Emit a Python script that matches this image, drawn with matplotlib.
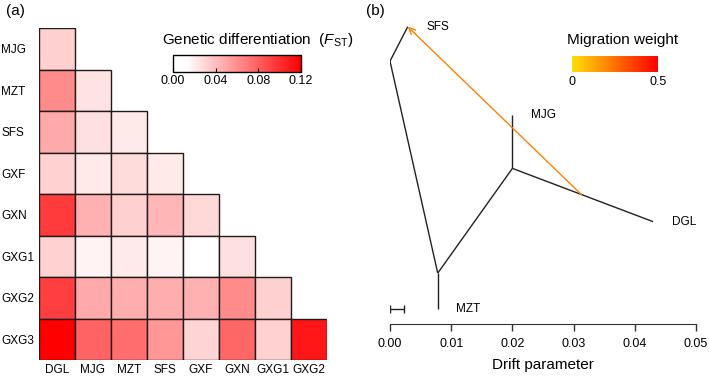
import numpy as np
import matplotlib.pyplot as plt
from matplotlib.colors import LinearSegmentedColormap, Normalize
from matplotlib.cm import ScalarMappable

plt.rcParams['font.family'] = ['Liberation Sans', 'DejaVu Sans']
plt.rcParams['mathtext.fontset'] = 'custom'
plt.rcParams['mathtext.rm'] = 'Liberation Sans'
plt.rcParams['mathtext.it'] = 'Liberation Sans:italic'

# ---- data: pairwise FST (lower triangle) ----
col_pops = ["DGL", "MJG", "MZT", "SFS", "GXF", "GXN", "GXG1", "GXG2"]
row_pops = ["MJG", "MZT", "SFS", "GXF", "GXN", "GXG1", "GXG2", "GXG3"]
fst_rows = [
    [0.032],
    [0.061, 0.024],
    [0.048, 0.025, 0.021],
    [0.031, 0.021, 0.027, 0.021],
    [0.095, 0.045, 0.032, 0.043, 0.029],
    [0.031, 0.017, 0.021, 0.017, 0.005, 0.025],
    [0.093, 0.048, 0.046, 0.046, 0.045, 0.061, 0.032],
    [0.120, 0.078, 0.074, 0.056, 0.030, 0.076, 0.031, 0.110],
]
fst_ticks = [0.00, 0.04, 0.08, 0.12]

# ---- data: TreeMix tree (drift parameter, vertical position) ----
node_names = ["n1", "SFS", "root", "MZT", "n2", "MJG", "DGL"]
node_drift = [0.0000, 0.0029, 0.0078, 0.0078, 0.0200, 0.0200, 0.0430]
node_ypos = [0.848, 0.959, 0.164, 0.047, 0.502, 0.674, 0.330]
edges = [("root", "n1"), ("n1", "SFS"), ("root", "MZT"),
         ("root", "n2"), ("n2", "MJG"), ("n2", "DGL")]
leaves = ["SFS", "MZT", "MJG", "DGL"]
mig_edge = ("n2", "DGL")
mig_frac = 0.49
mig_target = "SFS"
mig_weight = 0.21
scale_bar = 0.0023
drift_ticks = [0.00, 0.01, 0.02, 0.03, 0.04, 0.05]

W, H = 709, 382
fig = plt.figure(figsize=(W / 100, H / 100), dpi=100)


def box(x0, y0, x1, y1):
    return [x0 / W, 1 - y1 / H, (x1 - x0) / W, (y1 - y0) / H]


# ================= panel (a) =================
fst_cmap = LinearSegmentedColormap.from_list(
    "fst", [(0.0, "white"), (0.1, "white"), (1.0, "#ff0000")])
fst_norm = Normalize(0, 0.12)

n = len(row_pops)
mat = np.full((n, len(col_pops)), np.nan)
for i, vals in enumerate(fst_rows):
    mat[i, :len(vals)] = vals

ax = fig.add_axes(box(39, 28, 327, 360))
for i in range(n):
    for j in range(len(fst_rows[i])):
        ax.add_patch(plt.Rectangle((j, i), 1, 1, facecolor=fst_cmap(fst_norm(mat[i, j])),
                                   edgecolor="#221a1a", linewidth=1.0))
ax.set_xlim(0, len(col_pops))
ax.set_ylim(n, 0)
for s in ax.spines.values():
    s.set_visible(False)
ax.set_xticks(np.arange(len(col_pops)) + 0.5)
ax.set_xticklabels(col_pops, fontsize=8.5)
ax.set_yticks(np.arange(n) + 0.5)
ax.set_yticklabels(row_pops, fontsize=8.5, ha="left")
ax.tick_params(axis="x", length=0, pad=3)
ax.tick_params(axis="y", length=0, pad=27)

cax = fig.add_axes(box(173, 55, 301, 72))
cb = fig.colorbar(ScalarMappable(norm=fst_norm, cmap=fst_cmap), cax=cax,
                  orientation="horizontal", ticks=fst_ticks)
cb.ax.set_xticklabels([f"{t:.2f}" for t in fst_ticks])
cb.ax.tick_params(labelsize=9, direction="in", length=3, width=0.8, pad=2)
cb.outline.set_linewidth(1.0)
fig.text(162 / W, 1 - 40 / H, r"Genetic differentiation  ($\it{F}_{\rm ST}$)",
         fontsize=11, ha="left", va="center")
fig.text(6 / W, 1 - 11 / H, "(a)", fontsize=11, ha="left", va="center")

# ================= panel (b) =================
mig_cmap = LinearSegmentedColormap.from_list("mig", ["#ffe000", "#ff0000"])
mig_norm = Normalize(0, 0.5)

bx = fig.add_axes(box(390, 14, 696, 324))
pos = {nm: (x, y) for nm, x, y in zip(node_names, node_drift, node_ypos)}
for a, b in edges:
    bx.plot([pos[a][0], pos[b][0]], [pos[a][1], pos[b][1]],
            color="#222222", lw=1.0, solid_capstyle="butt")
for lf in leaves:
    bx.text(pos[lf][0] + 0.003, pos[lf][1], lf, fontsize=8.5, ha="left", va="center")

(sx0, sy0), (sx1, sy1) = pos[mig_edge[0]], pos[mig_edge[1]]
src = (sx0 + mig_frac * (sx1 - sx0), sy0 + mig_frac * (sy1 - sy0))
bx.annotate("", xy=pos[mig_target], xytext=src,
            arrowprops=dict(arrowstyle="->,head_length=0.45,head_width=0.22",
                            color=mig_cmap(mig_norm(mig_weight)), lw=1.0,
                            shrinkA=0, shrinkB=0))

bx.errorbar(scale_bar / 2, pos["MZT"][1], xerr=scale_bar / 2, color="#222222",
            lw=1.0, capsize=3, capthick=1.0)

bx.set_xlim(0, 0.05)
bx.set_ylim(0, 1)
for s in ["left", "top", "right"]:
    bx.spines[s].set_visible(False)
bx.spines["bottom"].set_color("#333333")
bx.set_yticks([])
bx.set_xticks(drift_ticks)
bx.set_xticklabels([f"{t:.2f}" for t in drift_ticks])
bx.tick_params(axis="x", labelsize=9, length=5, width=1.0, pad=5, color="#333333")
bx.set_xlabel("Drift parameter", fontsize=11, labelpad=6)

max_ax = fig.add_axes(box(572, 56, 658, 72))
mcb = fig.colorbar(ScalarMappable(norm=mig_norm, cmap=mig_cmap), cax=max_ax,
                   orientation="horizontal", ticks=[0, 0.5])
mcb.ax.set_xticklabels(["0", "0.5"])
mcb.ax.tick_params(labelsize=9, length=0, pad=3)
mcb.outline.set_visible(False)
fig.text(567 / W, 1 - 40 / H, "Migration weight", fontsize=11, ha="left", va="center")
fig.text(366 / W, 1 - 11 / H, "(b)", fontsize=11, ha="left", va="center")

fig.savefig("out.png", dpi=100)
